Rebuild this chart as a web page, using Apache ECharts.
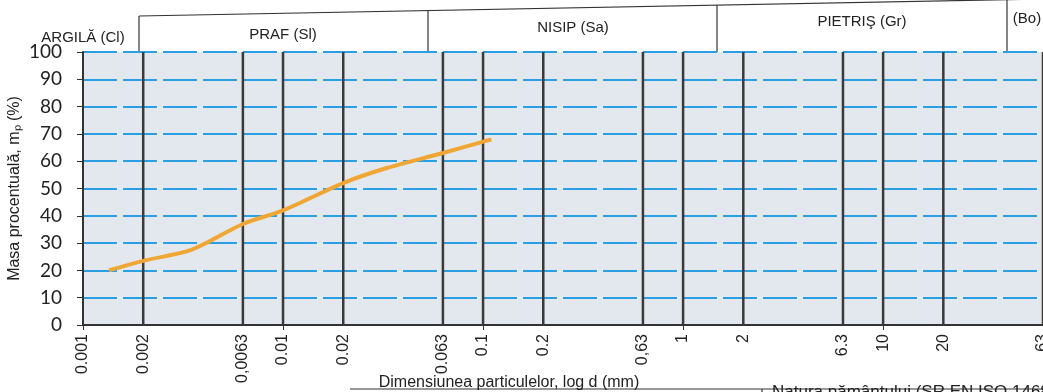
<!DOCTYPE html>
<html>
<head>
<meta charset="utf-8">
<script src="https://cdn.jsdelivr.net/npm/echarts@6/dist/echarts.min.js"></script>
<style>
  html, body { margin: 0; background: #fff; }
  #chart { width: 1043px; height: 392px; }
</style>
</head>
<body>
<div id="chart"></div>
<script>
// curba granulometrica
const sizes = [0.00135, 0.002, 0.0035, 0.0063, 0.01, 0.02, 0.033, 0.063, 0.11]
const passing = [20, 23.5, 27.6, 37, 42, 52, 57.5, 63, 68]

// diametre marcate pe axa x
const tickValues = [0.001, 0.002, 0.0063, 0.01, 0.02, 0.063, 0.1, 0.2, 0.63, 1, 2, 6.3, 10, 20, 63]
const tickLabels = ['0.001', '0.002', '0,0063', '0.01', '0.02', '0.063', '0.1', '0.2', '0,63', '1', '2', '6.3', '10', '20', '63']

// fractiuni (antet)
const fractions = ['ARGILĂ (Cl)', 'PRAF (Sl)', 'NISIP (Sa)', 'PIETRIŞ (Gr)', '(Bo)']

const narrow = "'Liberation Sans Narrow', 'Liberation Sans', sans-serif"
const ink = '#222'

const chart = echarts.init(document.getElementById('chart'))

const headerText = (text, x, y) => ({
  type: 'text', x, y,
  style: { text, font: '15px ' + narrow, fill: ink, textAlign: 'center', textVerticalAlign: 'middle' }
})
const line = (x1, y1, x2, y2, w) => ({
  type: 'line', shape: { x1, y1, x2, y2 },
  style: { stroke: '#333', lineWidth: w || 1.2 }
})

// liniile verticale: cate un segment 0..100 pentru fiecare diametru marcat
const gridLines = []
tickValues.slice(1).forEach(v => {
  gridLines.push([v, 0], [v, 100], [v, '-'])
})

const option = {
  animation: false,
  grid: {
    left: 83, right: 0, top: 52, bottom: 67,
    outerBoundsMode: 'none',
    show: true, backgroundColor: '#e3e8ee', borderWidth: 0
  },
  xAxis: {
    type: 'log', logBase: 10, min: 0.001, max: 63,
    axisLine: { show: true, onZero: false, lineStyle: { color: '#333', width: 2 } },
    axisTick: { show: true, length: 5, lineStyle: { color: '#333' } },
    splitLine: { show: false },
    minorTick: { show: false },
    axisLabel: {
      customValues: tickValues,
      rotate: 90,
      margin: 9,
      fontSize: 16,
      fontFamily: narrow,
      color: ink,
      hideOverlap: false,
      formatter: v => {
        const i = tickValues.findIndex(t => Math.abs(t - v) / t < 1e-6)
        return i >= 0 ? tickLabels[i] : ''
      }
    },
    name: 'Dimensiunea particulelor, log d (mm)',
    nameLocation: 'middle',
    nameGap: 50,
    nameMoveOverlap: false,
    nameTextStyle: { fontSize: 16, fontFamily: narrow, color: ink, padding: [0, 1043 - 2 * 509 + 83, 0, 0] }
  },
  yAxis: {
    type: 'value', min: 0, max: 100, interval: 10,
    axisLine: { show: true, lineStyle: { color: '#333', width: 2 } },
    axisTick: { show: true, length: 6, lineStyle: { color: '#333' } },
    axisLabel: { fontSize: 19, fontFamily: 'Lato, sans-serif', color: ink, margin: 21 },
    splitLine: { show: true, lineStyle: { color: '#2a9fe2', width: 2, type: [34, 6] } },
    name: 'Masa procentuală, mₚ (%)',
    nameLocation: 'middle',
    nameGap: 60,
    nameMoveOverlap: false,
    nameTextStyle: { fontSize: 16, fontFamily: narrow, color: ink }
  },
  series: [
    {
      type: 'line',
      z: 1,
      silent: true,
      symbol: 'none',
      connectNulls: false,
      lineStyle: { color: '#3a3a3a', width: 2.5 },
      data: gridLines
    },
    {
      type: 'line',
      z: 5,
      smooth: 0.3,
      symbol: 'none',
      lineStyle: { color: '#f0a634', width: 4 },
      data: sizes.map((d, i) => [d, passing[i]])
    }
  ],
  graphic: [
    // antet fractiuni
    line(139, 16, 1043, -1),
    line(139, 16, 139, 52),
    line(428, 11, 428, 52),
    line(717, 5, 717, 52),
    line(1007, 0, 1007, 52),
    headerText(fractions[0], 83, 38),
    headerText(fractions[1], 283, 35),
    headerText(fractions[2], 573, 28),
    headerText(fractions[3], 862, 22),
    headerText(fractions[4], 1027, 19),
    // tabel de jos
    line(350, 389, 1043, 389),
    line(762, 389, 762, 392),
    {
      type: 'text', x: 772, y: 384,
      style: { text: 'Natura pământului (SR EN ISO 14688)', font: '17px ' + narrow, fill: ink, textVerticalAlign: 'top' }
    }
  ]
}

chart.setOption(option)
</script>
</body>
</html>
